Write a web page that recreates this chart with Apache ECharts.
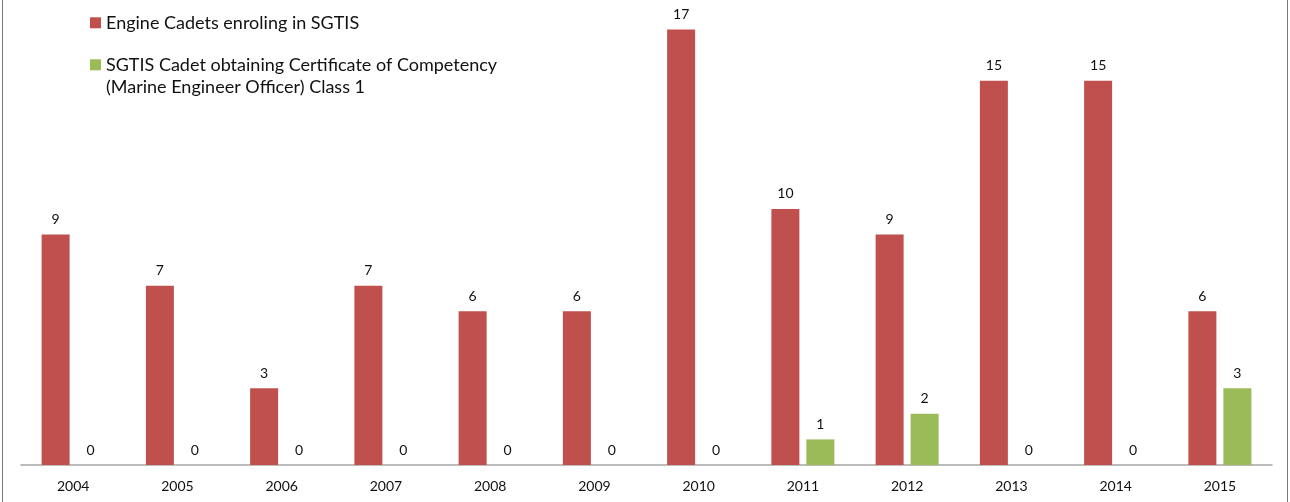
<!DOCTYPE html>
<html>
<head>
<meta charset="utf-8">
<script src="https://cdn.jsdelivr.net/npm/echarts@6/dist/echarts.min.js"></script>
<style>
html,body{margin:0;padding:0;background:#fff;}
#chart{width:1290px;height:502px;}
</style>
</head>
<body>
<div id="chart"></div>
<script>
const years = ['2004','2005','2006','2007','2008','2009','2010','2011','2012','2013','2014','2015'];
const enrolled = [9, 7, 3, 7, 6, 6, 17, 10, 9, 15, 15, 6];
const certified = [0, 0, 0, 0, 0, 0, 0, 1, 2, 0, 0, 3];
const seriesNames = ['Engine Cadets enroling in SGTIS', 'SGTIS Cadet obtaining Certificate of Competency\n(Marine Engineer Officer) Class 1'];

const FONT = 'Lato, "Open Sans", sans-serif';
const chart = echarts.init(document.getElementById('chart'), null, {renderer: 'canvas'});
const labelStyle = {show: true, position: 'top', distance: 8, color: '#111', fontSize: 14, fontFamily: FONT};
chart.setOption({
  animation: false,
  backgroundColor: '#fff',
  graphic: [{
    type: 'rect', silent: true, z: 100,
    shape: {x: 2.5, y: -2, width: 1285, height: 506},
    style: {fill: 'none', stroke: '#7a7a7a', lineWidth: 1}
  }],
  legend: [{
    data: [seriesNames[0]], left: 90, top: 11.8, padding: 0, orient: 'vertical',
    itemWidth: 11, itemHeight: 11, itemGap: 5, icon: 'rect', selectedMode: false,
    textStyle: {fontSize: 18, fontFamily: FONT, color: '#111', lineHeight: 22}
  }, {
    data: [seriesNames[1]], left: 90, top: 31.8, padding: 0, orient: 'vertical',
    itemWidth: 11, itemHeight: 11, itemGap: 5, icon: 'rect', selectedMode: false,
    formatter: function (name) { return ' \n' + name; },
    textStyle: {fontSize: 18, fontFamily: FONT, color: '#111', lineHeight: 22}
  }],
  grid: {left: 21, top: 4, width: 1251, height: 461, containLabel: false},
  xAxis: {
    type: 'category', data: years,
    axisLine: {lineStyle: {color: '#a6a6a6', width: 1.5}},
    axisTick: {show: false},
    axisLabel: {color: '#111', fontSize: 14, fontFamily: FONT, margin: 14}
  },
  yAxis: {
    type: 'value', min: 0, max: 18, interval: 1,
    show: false, splitLine: {show: false}
  },
  series: [{
    name: seriesNames[0], type: 'bar', data: enrolled, barWidth: 28, barGap: '25%',
    itemStyle: {color: '#c0504d'}, label: labelStyle
  }, {
    name: seriesNames[1], type: 'bar', data: certified, barWidth: 28,
    itemStyle: {color: '#9bbb59'}, label: labelStyle
  }]
});
</script>
</body>
</html>
